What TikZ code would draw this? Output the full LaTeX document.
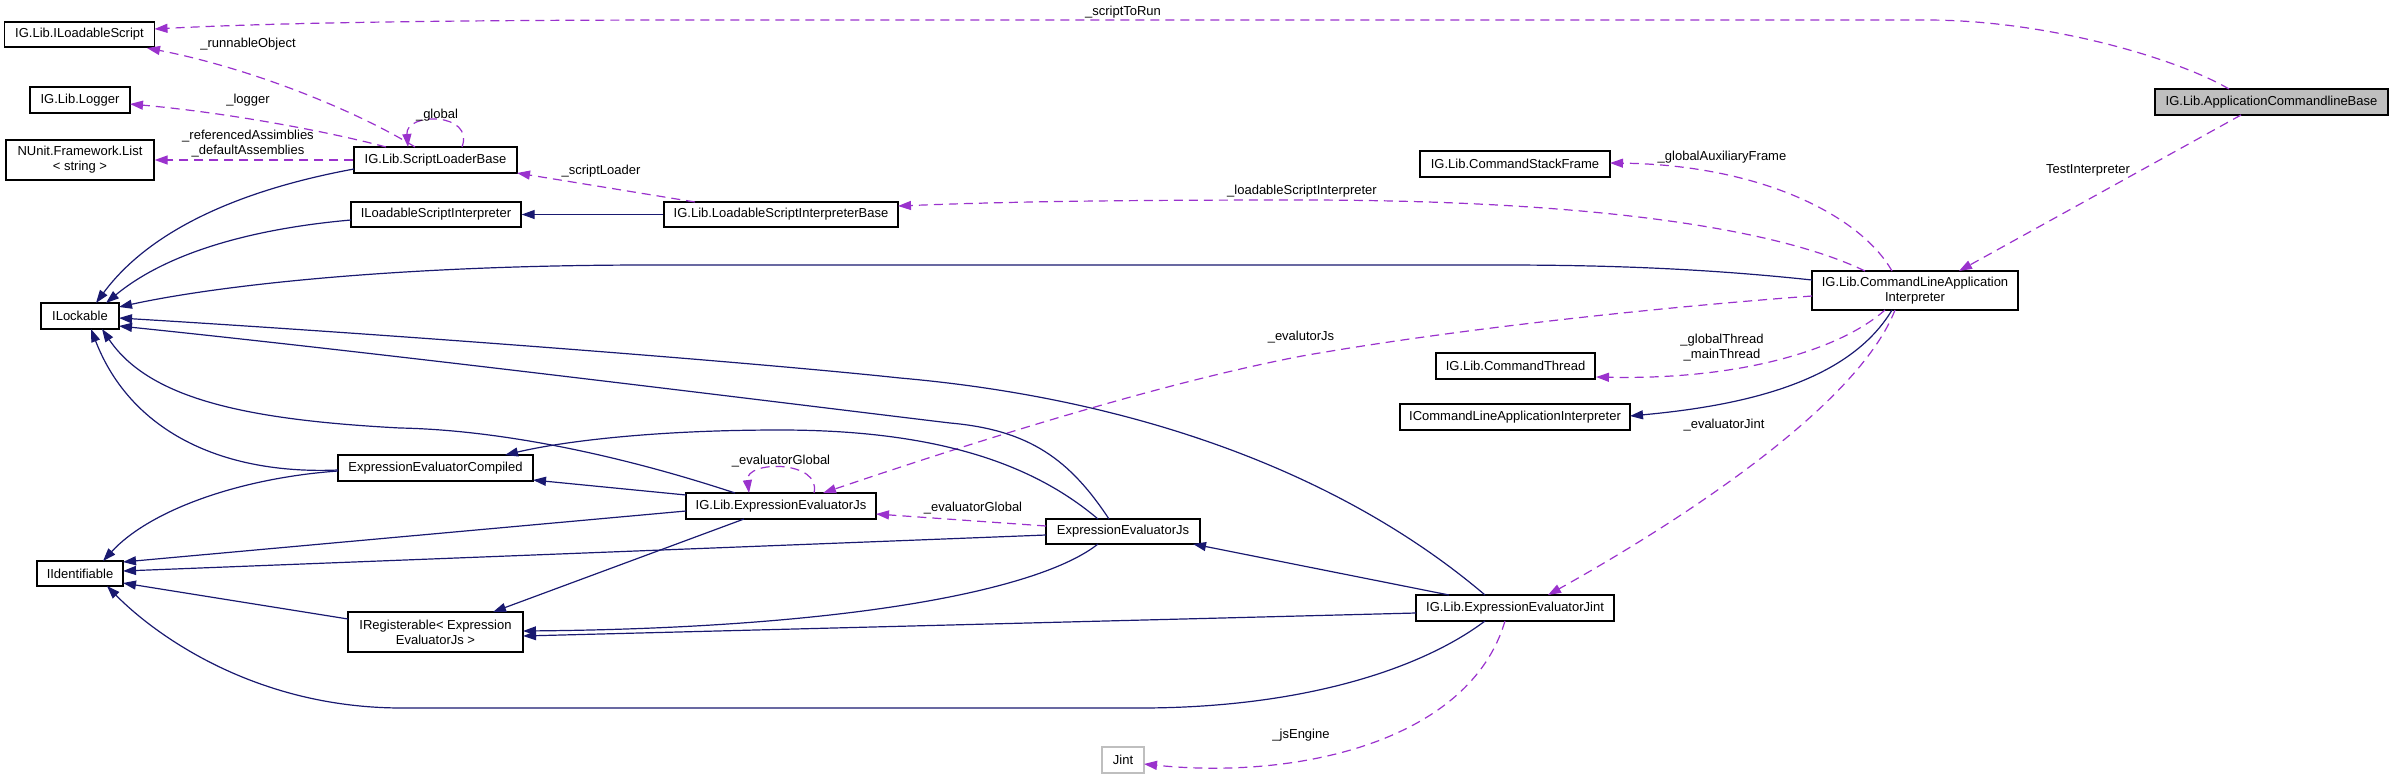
\documentclass[tikz,border=0pt]{standalone}
\usepackage{fontspec}
\setmainfont{Liberation Sans}
\usetikzlibrary{arrows.meta,calc}
\definecolor{navyc}{HTML}{191970}
\definecolor{purp}{HTML}{9A32CD}
\definecolor{gfill}{HTML}{BFBFBF}
\newcommand{\dfs}{\fontsize{13}{15}\selectfont}
\tikzset{
  box/.style={draw=black, line width=1.3pt, fill=white, inner sep=0pt, font=\dfs, align=center},
  inh/.style={draw=navyc, line width=1.2pt, -{Triangle[length=13pt,width=9pt]}},
  use/.style={draw=purp, line width=1.2pt, dash pattern=on 9pt off 6pt, -{Triangle[length=13pt,width=9pt]}},
  lbl/.style={font=\dfs, inner sep=0pt, align=center}
}
\begin{document}
\begin{tikzpicture}[x=1pt,y=-1pt]
\useasboundingbox (0,0) rectangle (2393,779);
% nodes
\node[box, minimum width=150pt, minimum height=25pt] (ils) at (79.5,34.5) {IG.Lib.ILoadableScript};
\node[box, minimum width=100pt, minimum height=26pt] (logger) at (80,100) {IG.Lib.Logger};
\node[box, minimum width=148pt, minimum height=40pt] (nlist) at (80,160) {NUnit.Framework.List\\< string >};
\node[box, minimum width=163pt, minimum height=26pt] (slb) at (435.5,160) {IG.Lib.ScriptLoaderBase};
\node[box, minimum width=170pt, minimum height=25pt] (ilsi) at (436,214.5) {ILoadableScriptInterpreter};
\node[box, minimum width=234pt, minimum height=25pt] (lsib) at (781,214.5) {IG.Lib.LoadableScriptInterpreterBase};
\node[box, minimum width=78pt, minimum height=26pt] (ilock) at (80,316) {ILockable};
\node[box, minimum width=195pt, minimum height=26pt] (eec) at (435.5,468) {ExpressionEvaluatorCompiled};
\node[box, minimum width=190pt, minimum height=26pt] (eejs) at (781,506) {IG.Lib.ExpressionEvaluatorJs};
\node[box, minimum width=86pt, minimum height=25pt] (iident) at (80,573.5) {IIdentifiable};
\node[box, minimum width=175pt, minimum height=40pt] (ireg) at (435.5,632) {IRegisterable< Expression\\EvaluatorJs >};
\node[box, minimum width=154pt, minimum height=25pt] (eejs2) at (1123,531.5) {ExpressionEvaluatorJs};
\node[box, minimum width=198pt, minimum height=26pt] (eejint) at (1515,608) {IG.Lib.ExpressionEvaluatorJint};
\node[box, draw=gfill, minimum width=42pt, minimum height=26pt] (jint) at (1123,760) {Jint};
\node[box, fill=gfill, minimum width=233pt, minimum height=26pt] (acb) at (2271.5,102) {IG.Lib.ApplicationCommandlineBase};
\node[box, minimum width=190pt, minimum height=26pt] (csf) at (1515,164) {IG.Lib.CommandStackFrame};
\node[box, minimum width=206pt, minimum height=39pt] (clai) at (1915,290.5) {IG.Lib.CommandLineApplication\\Interpreter};
\node[box, minimum width=159pt, minimum height=26pt] (cthr) at (1515.5,366) {IG.Lib.CommandThread};
\node[box, minimum width=230pt, minimum height=26pt] (icla) at (1515,417) {ICommandLineApplicationInterpreter};
% usage (dashed)
\draw[use] ($(acb)+(-42.5,-13)$) .. controls (2180,60) and (2050,20) .. (1926,20) -- (700,20) .. controls (400,20) and (250,24) .. ($(ils)+(75,-5.5)$);
\draw[use] ($(slb)+(-20.5,-13)$) .. controls (355,110) and (250,68) .. ($(ils)+(67.5,13.5)$);
\draw[use] ($(slb)+(-49.5,-13)$) .. controls (330,132) and (230,113) .. ($(logger)+(50,4)$);
\draw[use] (slb.west) -- (nlist.east);
\draw[use] ($(slb)+(26.5,-13)$) .. controls (475,112) and (405,112) .. ($(slb)+(-27.5,-13)$);
\draw[use] ($(lsib)+(-86,-12.5)$) -- ($(slb)+(81.5,13)$);
\draw[use] ($(clai)+(-50,-19.5)$) .. controls (1780,230) and (1600,200) .. (1300,200) .. controls (1100,200) and (1000,202) .. ($(lsib)+(117,-8.5)$);
\draw[use] ($(clai)+(-23,-19.5)$) .. controls (1860,215) and (1760,165) .. ($(csf)+(95,-1)$);
\draw[use] ($(acb)+(-30.5,13)$) -- ($(clai)+(44,-19.5)$);
\draw[use] ($(clai)+(-103,5.5)$) .. controls (1650,308) and (1450,330) .. (1302,356) .. controls (1150,385) and (950,450) .. ($(eejs)+(42,-13)$);
\draw[use] ($(clai)+(-30,19.5)$) .. controls (1840,350) and (1740,380) .. ($(cthr)+(80.5,11)$);
\draw[use] ($(clai)+(-20,19.5)$) .. controls (1860,400) and (1700,510) .. ($(eejint)+(33,-13)$);
\draw[use] ($(eejs)+(33,-13)$) .. controls (822,460) and (745,460) .. ($(eejs)+(-32,-13)$);
\draw[use] ($(eejs2)+(-77,-5.5)$) -- ($(eejs)+(95,8)$);
\draw[use] ($(eejint)+(-10,13)$) .. controls (1470,740) and (1300,780) .. ($(jint)+(21,4)$);
% inheritance (solid)
\draw[inh] ($(slb)+(-81.5,9)$) .. controls (240,190) and (150,230) .. ($(ilock)+(16,-13)$);
\draw[inh] ($(ilsi)+(-85,5.5)$) .. controls (260,228) and (170,250) .. ($(ilock)+(26,-13)$);
\draw[inh] (lsib.west) -- (ilsi.east);
\draw[inh] ($(clai)+(-103,-10.5)$) .. controls (1700,268) and (1600,265) .. (1500,265) -- (650,265) .. controls (400,265) and (220,285) .. ($(ilock)+(39,-9)$);
\draw[inh] ($(eejint)+(-30,-13)$) .. controls (1350,480) and (1150,400) .. (900,378) .. controls (750,362) and (400,335) .. ($(ilock)+(39,2)$);
\draw[inh] ($(eejs2)+(-14,-12.5)$) .. controls (1070,460) and (1030,430) .. (950,423) .. controls (800,405) and (400,355) .. ($(ilock)+(39,10)$);
\draw[inh] ($(eec)+(-97.5,2)$) .. controls (220,475) and (130,430) .. ($(ilock)+(11,13)$);
\draw[inh] ($(eejs)+(-46,-13)$) .. controls (620,455) and (500,430) .. (400,428) .. controls (250,420) and (150,400) .. ($(ilock)+(22,13)$);
\draw[inh] ($(eec)+(-97.5,3)$) .. controls (240,478) and (150,510) .. ($(iident)+(23,-12.5)$);
\draw[inh] ($(eejs)+(-95,5)$) -- ($(iident)+(43,-11.5)$);
\draw[inh] ($(eejs2)+(-77,3.5)$) -- ($(iident)+(43,-2.5)$);
\draw[inh] ($(ireg)+(-87.5,-13)$) -- ($(iident)+(43,9.5)$);
\draw[inh] ($(eejint)+(-30,13)$) .. controls (1420,670) and (1300,708) .. (1140,708) -- (402,708) .. controls (250,708) and (150,630) .. ($(iident)+(27,12.5)$);
\draw[inh] ($(eejs)+(-37,13)$) -- ($(ireg)+(57.5,-20)$);
\draw[inh] ($(eejs2)+(-25,12.5)$) .. controls (1040,590) and (850,628) .. ($(ireg)+(87.5,-1)$);
\draw[inh] ($(eejint)+(-99,5)$) -- ($(ireg)+(87.5,4)$);
\draw[inh] ($(eejs)+(-95,-11)$) -- ($(eec)+(97.5,12)$);
\draw[inh] ($(eejs2)+(-25,-12.5)$) .. controls (1040,470) and (950,430) .. (780,430) .. controls (650,430) and (560,442) .. ($(eec)+(69.5,-13)$);
\draw[inh] ($(eejint)+(-66,-13)$) -- ($(eejs2)+(70,12.5)$);
\draw[inh] ($(clai)+(-23,19.5)$) .. controls (1850,380) and (1750,405) .. ($(icla)+(115,-1)$);
% labels
\node[lbl] (l1) at (1123,12) {\_scriptToRun};
\node[lbl] (l2) at (248,44) {\_runnableObject};
\node[lbl] (l3) at (248,100) {\_logger};
\node[lbl] (l4) at (248,144) {\_referencedAssimblies\\\_defaultAssemblies};
\node[lbl] (l5) at (437,115) {\_global};
\node[lbl] (l6) at (601,171) {\_scriptLoader};
\node[lbl] (l7) at (1302,191) {\_loadableScriptInterpreter};
\node[lbl] (l8) at (1722,157) {\_globalAuxiliaryFrame};
\node[lbl] (l9) at (2088,170) {TestInterpreter};
\node[lbl] (l10) at (1301,337) {\_evalutorJs};
\node[lbl] (l11) at (1722,348) {\_globalThread\\\_mainThread};
\node[lbl] (l12) at (1724,425) {\_evaluatorJint};
\node[lbl] (l13) at (781,461) {\_evaluatorGlobal};
\node[lbl] (l14) at (973,508) {\_evaluatorGlobal};
\node[lbl] (l15) at (1301,735) {\_jsEngine};
\end{tikzpicture}
\end{document}
